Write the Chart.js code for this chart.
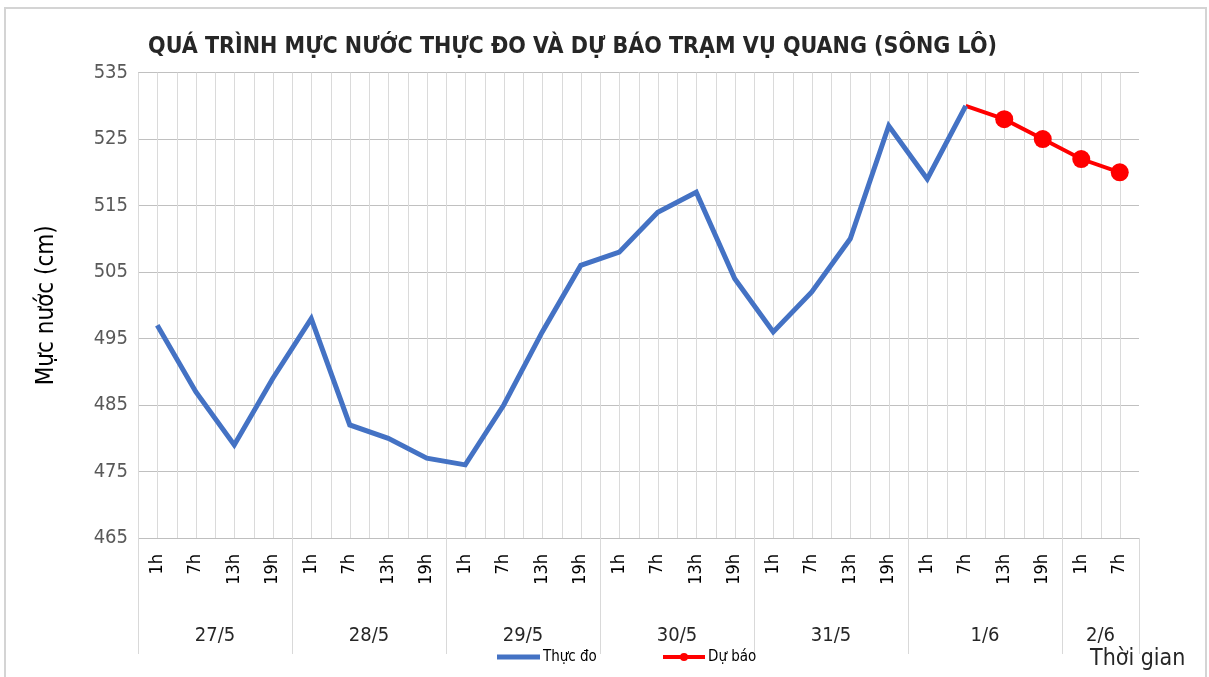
<!DOCTYPE html>
<html>
<head>
<meta charset="utf-8">
<script src="https://cdn.jsdelivr.net/npm/chart.js@4"></script>
<style>
    body { margin: 0; background: #fff; }
    #wrap { width: 1209px; height: 677px; }
</style>
</head>
<body>
<div id="wrap"><canvas id="levelChart" width="1209" height="677"></canvas></div>
<script>
// Hour labels on the x axis
const hours = ['1h', '7h', '13h', '19h', '1h', '7h', '13h', '19h', '1h', '7h', '13h', '19h',
    '1h', '7h', '13h', '19h', '1h', '7h', '13h', '19h', '1h', '7h', '13h', '19h', '1h', '7h'];

// Day groups under the hours
const days = ['27/5', '28/5', '29/5', '30/5', '31/5', '1/6', '2/6'];
const daySpans = [4, 4, 4, 4, 4, 4, 2];

// Water level (cm)
const observed = [497, 487, 479, 489, 498, 482, 480, 477, 476, 485, 496, 506,
    508, 514, 517, 504, 496, 502, 510, 527, 519, 530, null, null, null, null];
const forecast = [null, null, null, null, null, null, null, null, null, null, null, null,
    null, null, null, null, null, null, null, null, null, 530, 528, 525, 522, 520];

const yTicks = [465, 475, 485, 495, 505, 515, 525, 535];

const font = '"Liberation Sans Narrow", "DejaVu Sans Condensed", "Liberation Sans", sans-serif';

// Grid lines at category centres and boundaries, day groups, legend
const gridPlugin = {
    id: 'gridLines',
    beforeDatasetsDraw(chart) {
        const { ctx, chartArea, scales } = chart;
        const x = scales.x;
        const half = (x.getPixelForValue(1) - x.getPixelForValue(0)) / 2;
        ctx.save();
        ctx.strokeStyle = '#dadada';
        ctx.lineWidth = 1;
        for (let i = 0; i < hours.length; i++) {
            const c = x.getPixelForValue(i);
            [c - half, c].forEach(px => {
                ctx.beginPath();
                ctx.moveTo(Math.round(px) + 0.5, chartArea.top);
                ctx.lineTo(Math.round(px) + 0.5, chartArea.bottom);
                ctx.stroke();
            });
        }
        ctx.restore();
    },
    afterDraw(chart) {
        const { ctx, chartArea, scales } = chart;
        const x = scales.x;
        const half = (x.getPixelForValue(1) - x.getPixelForValue(0)) / 2;
        ctx.save();

        // day separators and labels
        ctx.strokeStyle = '#d9d9d9';
        ctx.lineWidth = 1;
        ctx.fillStyle = '#262626';
        ctx.font = '20px ' + font;
        ctx.textAlign = 'center';
        ctx.textBaseline = 'middle';
        let start = 0;
        daySpans.forEach((span, i) => {
            const left = x.getPixelForValue(start) - half;
            const right = x.getPixelForValue(start + span - 1) + half;
            [left, right].forEach(px => {
                ctx.beginPath();
                ctx.moveTo(Math.round(px) + 0.5, chartArea.bottom);
                ctx.lineTo(Math.round(px) + 0.5, chartArea.bottom + 116);
                ctx.stroke();
            });
            ctx.fillText(days[i], (left + right) / 2, 636);
            start += span;
        });

        // legend
        ctx.textAlign = 'left';
        ctx.font = '15px ' + font;
        ctx.fillStyle = '#000';
        ctx.lineWidth = 5;
        ctx.strokeStyle = chart.data.datasets[0].borderColor;
        ctx.beginPath();
        ctx.moveTo(497, 657);
        ctx.lineTo(540, 657);
        ctx.stroke();
        ctx.fillText(chart.data.datasets[0].label, 543, 657);
        ctx.lineWidth = 4;
        ctx.strokeStyle = chart.data.datasets[1].borderColor;
        ctx.beginPath();
        ctx.moveTo(663, 657);
        ctx.lineTo(705, 657);
        ctx.stroke();
        ctx.fillStyle = chart.data.datasets[1].borderColor;
        ctx.beginPath();
        ctx.arc(684, 657, 4, 0, Math.PI * 2);
        ctx.fill();
        ctx.fillStyle = '#000';
        ctx.fillText(chart.data.datasets[1].label, 708, 657);

        // x axis name
        ctx.font = '23px ' + font;
        ctx.fillStyle = '#262626';
        ctx.fillText('Thời gian', 1090, 659);

        // frame
        ctx.strokeStyle = '#d4d4d4';
        ctx.lineWidth = 2;
        ctx.beginPath();
        ctx.moveTo(5, 677);
        ctx.lineTo(5, 8);
        ctx.lineTo(1206, 8);
        ctx.lineTo(1206, 677);
        ctx.stroke();
        ctx.restore();
    }
};

const ctx = document.getElementById('levelChart').getContext('2d');
new Chart(ctx, {
    type: 'line',
    data: {
        labels: hours,
        datasets: [{
            label: 'Thực đo',
            data: observed,
            borderColor: '#4472C4',
            borderWidth: 5,
            pointRadius: 0,
            tension: 0,
            fill: false
        }, {
            label: 'Dự báo',
            data: forecast,
            borderColor: '#FF0000',
            backgroundColor: '#FF0000',
            borderWidth: 4,
            pointRadius: c => c.dataIndex === 21 ? 0 : 9,
            pointBorderWidth: 0,
            tension: 0,
            fill: false
        }]
    },
    options: {
        responsive: false,
        animation: false,
        layout: { padding: { left: 6, right: 70, top: 0, bottom: 0 } },
        plugins: {
            legend: { display: false },
            tooltip: { enabled: false },
            title: {
                display: true,
                text: 'QUÁ TRÌNH MỰC NƯỚC THỰC ĐO VÀ DỰ BÁO TRẠM VỤ QUANG (SÔNG LÔ)',
                color: '#262626',
                font: { family: font, size: 23, weight: 'bold' },
                padding: { top: 33, bottom: 12 }
            }
        },
        scales: {
            x: {
                offset: true,
                grid: { display: false },
                border: { color: '#bfbfbf' },
                ticks: {
                    autoSkip: false,
                    minRotation: 90,
                    maxRotation: 90,
                    padding: 8,
                    color: '#000',
                    font: { family: font, size: 18 }
                },
                afterFit: s => { s.height = 139; }
            },
            y: {
                min: yTicks[0],
                max: yTicks[yTicks.length - 1],
                afterBuildTicks: s => { s.ticks = yTicks.map(v => ({ value: v })); },
                grid: { color: '#c0c0c0', drawTicks: false },
                border: { display: false },
                ticks: {
                    padding: 10,
                    color: '#595959',
                    font: { family: font, size: 20 }
                },
                title: {
                    display: true,
                    text: 'Mực nước (cm)',
                    color: '#000',
                    font: { family: font, size: 24 },
                    padding: { top: 26, bottom: 0 }
                },
                afterFit: s => { s.width = 132; }
            }
        }
    },
    plugins: [gridPlugin]
});
</script>
</body>
</html>
